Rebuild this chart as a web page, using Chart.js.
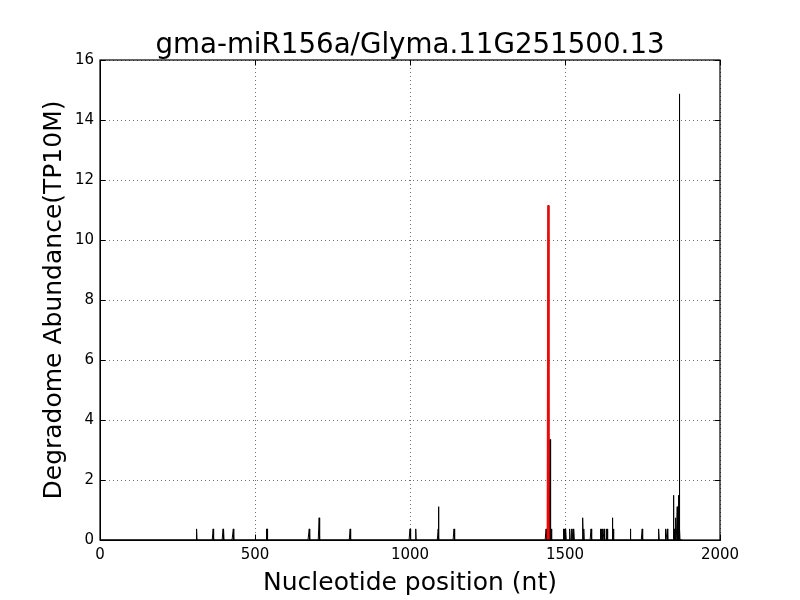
<!DOCTYPE html>
<html>
<head>
<meta charset="utf-8">
<script src="https://cdn.jsdelivr.net/npm/chart.js@4.4.1/dist/chart.umd.min.js"></script>
<style>
  html, body { margin: 0; padding: 0; background: #ffffff; }
  #wrap { width: 800px; height: 600px; }
</style>
</head>
<body>
<div id="wrap"><canvas id="degradomeChart" width="800" height="600"></canvas></div>
<script>

// transcript length (nt) and degradome read peaks (TP10M)
const transcriptLength = 1880;

const peakPositions = [
    312, 365, 397, 399, 430, 537, 539, 675, 707, 807,
    1000, 1019, 1091, 1092, 1142,
    1439, 1441, 1444, 1446, 1452, 1454, 1457,
    1495, 1498, 1503, 1516, 1522, 1526, 1529,
    1556, 1558, 1561, 1584, 1615, 1618, 1621, 1626, 1634, 1637,
    1653, 1656, 1711, 1749, 1803, 1824, 1830,
    1850, 1852, 1853, 1857, 1862, 1866, 1869, 1870
];

const peakValues = [
    0.37, 0.37, 0.37, 0.37, 0.37, 0.37, 0.37, 0.37, 0.74, 0.37,
    0.37, 0.37, 0.37, 1.11, 0.37,
    0.37, 0.37, 0.74, 11.15, 3.35, 0.37, 0.37,
    0.37, 0.37, 0.37, 0.37, 0.37, 0.37, 0.37,
    0.37, 0.74, 0.37, 0.37, 0.37, 0.37, 0.37, 0.37, 0.37, 0.37,
    0.74, 0.37, 0.37, 0.37, 0.37, 0.37, 0.37,
    1.49, 0.37, 0.37, 0.74, 1.11, 1.49, 14.87, 0.37
];

// miRNA target site (drawn in red)
const targetPositions = [1444, 1445, 1446, 1447];
const targetValues = [0, 0, 11.15, 0];

const xTicks = [0, 500, 1000, 1500, 2000];
const yTicks = [0, 2, 4, 6, 8, 10, 12, 14, 16];

const chartTitle = "gma-miR156a/Glyma.11G251500.13";

const FONT = "'DejaVu Sans', sans-serif";

function buildProfile() {

    const lookup = {};

    peakPositions.forEach((pos, i) => {
        lookup[pos] = peakValues[i];
    });

    const points = [];

    for (let pos = 1; pos <= transcriptLength; pos++) {
        points.push({ x: pos, y: lookup[pos] || 0 });
    }

    return points;

}

const targetPoints = targetPositions.map((pos, i) => ({ x: pos, y: targetValues[i] }));

// matplotlib-like frame with inward ticks on all four sides, title over the axes
const framePlugin = {

    id: "frame",

    afterDraw(chart) {

        const { ctx, chartArea: a, scales: { x, y } } = chart;
        const len = 5.5;

        ctx.save();
        ctx.strokeStyle = "#000000";
        ctx.lineWidth = 1.2;
        ctx.strokeRect(a.left, a.top, a.right - a.left, a.bottom - a.top);

        ctx.lineWidth = 1;
        ctx.beginPath();

        xTicks.forEach(v => {
            const px = Math.round(x.getPixelForValue(v)) + 0.5;
            ctx.moveTo(px, a.bottom);
            ctx.lineTo(px, a.bottom - len);
            ctx.moveTo(px, a.top);
            ctx.lineTo(px, a.top + len);
        });

        yTicks.forEach(v => {
            const py = Math.round(y.getPixelForValue(v)) + 0.5;
            ctx.moveTo(a.left, py);
            ctx.lineTo(a.left + len, py);
            ctx.moveTo(a.right, py);
            ctx.lineTo(a.right - len, py);
        });

        ctx.stroke();

        ctx.fillStyle = "#000000";
        ctx.font = "27.7px " + FONT;
        ctx.textAlign = "center";
        ctx.textBaseline = "alphabetic";
        ctx.fillText(chartTitle, (a.left + a.right) / 2, a.top - 7);

        ctx.restore();

    }

};

const ctx = document.getElementById("degradomeChart").getContext("2d");

new Chart(ctx, {

    type: "line",

    data: {

        datasets: [
            {
                label: "target",
                data: targetPoints,
                borderColor: "#ff0000",
                borderWidth: 2,
                pointRadius: 0,
                tension: 0,
                order: 0
            },
            {
                label: "profile",
                data: buildProfile(),
                borderColor: "#000000",
                borderWidth: 1,
                pointRadius: 0,
                tension: 0,
                order: 1
            }
        ]

    },

    options: {

        responsive: false,
        animation: false,
        events: [],

        layout: {
            padding: { left: 0, right: 80, top: 60, bottom: 0 }
        },

        plugins: {
            legend: { display: false },
            tooltip: { enabled: false },
            title: { display: false }
        },

        scales: {

            x: {
                type: "linear",
                min: 0,
                max: 2000,
                afterBuildTicks: scale => {
                    scale.ticks = xTicks.map(v => ({ value: v }));
                },
                afterFit: scale => {
                    scale.height = 60;
                },
                ticks: {
                    color: "#000000",
                    padding: 6,
                    maxRotation: 0,
                    font: { family: FONT, size: 15 },
                    callback: v => String(v)
                },
                grid: {
                    color: "#333333",
                    lineWidth: 0.7,
                    drawTicks: false
                },
                border: {
                    color: "#000000",
                    width: 1,
                    dash: [1, 3]
                },
                title: {
                    display: true,
                    text: "Nucleotide position (nt)",
                    color: "#000000",
                    font: { family: FONT, size: 25, lineHeight: 1.2 },
                    padding: { top: 0, bottom: 2 }
                }
            },

            y: {
                type: "linear",
                min: 0,
                max: 16,
                afterBuildTicks: scale => {
                    scale.ticks = yTicks.map(v => ({ value: v }));
                },
                afterFit: scale => {
                    scale.width = 100;
                },
                ticks: {
                    color: "#000000",
                    padding: 6,
                    font: { family: FONT, size: 15 },
                    callback: v => String(v)
                },
                grid: {
                    color: "#333333",
                    lineWidth: 0.7,
                    drawTicks: false
                },
                border: {
                    color: "#000000",
                    width: 1,
                    dash: [1, 3]
                },
                title: {
                    display: true,
                    text: "Degradome Abundance(TP10M)",
                    color: "#000000",
                    font: { family: FONT, size: 25, lineHeight: 1.2 },
                    padding: { top: 39.5, bottom: 0 }
                }
            }

        }

    },

    plugins: [framePlugin]

});

</script>
</body>
</html>
